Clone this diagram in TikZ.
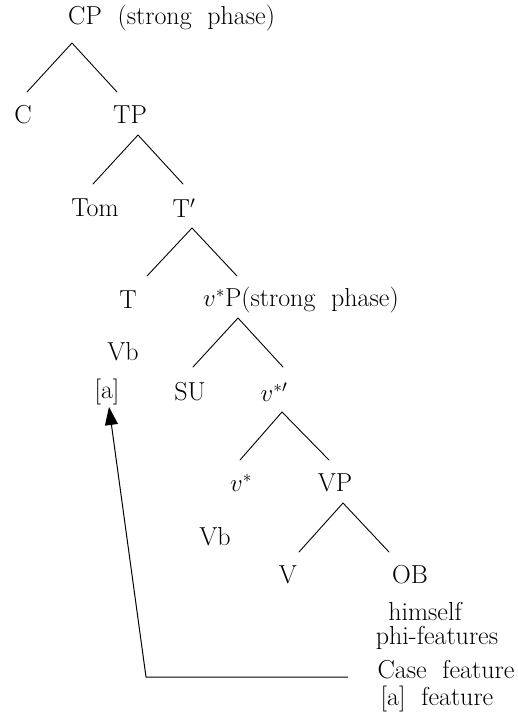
\documentclass[tikz,border=0pt]{standalone}
\usetikzlibrary{arrows.meta}
\tikzset{
  lbl/.style={inner sep=0pt, font=\fontsize{26}{30}\selectfont},
  branch/.style={line width=0.9pt, line cap=round},
  link/.style={line width=1pt}
}
\begin{document}
\begin{tikzpicture}[x=1pt,y=-1pt]
\useasboundingbox (0,0) rectangle (517,727);
% labels
\node[lbl, anchor=west] (CP) at (68,18) {CP\ \ (strong\ \ phase)};
\node[lbl] (C) at (23,115) {C};
\node[lbl] (TP) at (130,115) {TP};
\node[lbl] (Tom) at (95,208) {Tom};
\node[lbl] (Tbar) at (184,208) {T$'$};
\node[lbl] (T) at (128,300) {T};
\node[lbl, anchor=west] (vP) at (203,300) {$v^{*}$P(strong\ \ phase)};
\node[lbl] (Vb1) at (123,352) {Vb};
\node[lbl] (a) at (107,392) {[a]};
\node[lbl] (SU) at (190,392) {SU};
\node[lbl] (vbar) at (274,392) {$v^{*\prime}$};
\node[lbl] (vstar) at (241,483) {$v^{*}$};
\node[lbl] (VP) at (335,483) {VP};
\node[lbl] (Vb2) at (215,537) {Vb};
\node[lbl] (V) at (288,575) {V};
\node[lbl] (OB) at (410,575) {OB};
\node[lbl] (him) at (425,611) {himself};
\node[lbl] (phi) at (437,638) {phi-features};
\node[lbl] (case) at (446,670) {Case\ \ feature};
\node[lbl] (afeat) at (437,699) {[a]\ \ feature};
% branch points
\coordinate (cpA) at (72,43);  \coordinate (cpL) at (27,92);  \coordinate (cpR) at (117,92);
\coordinate (tpA) at (138,135); \coordinate (tpL) at (93,184); \coordinate (tpR) at (183,184);
\coordinate (tbA) at (192,228); \coordinate (tbL) at (147,276); \coordinate (tbR) at (237,276);
\coordinate (vpA) at (238,318); \coordinate (vpL) at (193,367); \coordinate (vpR) at (283,367);
\coordinate (vbA) at (282,412); \coordinate (vbL) at (240,460); \coordinate (vbR) at (329,460);
\coordinate (VPA) at (343,503); \coordinate (VPL) at (299,552); \coordinate (VPR) at (389,552);
\draw[branch] (cpL) -- (cpA) -- (cpR);
\draw[branch] (tpL) -- (tpA) -- (tpR);
\draw[branch] (tbL) -- (tbA) -- (tbR);
\draw[branch] (vpL) -- (vpA) -- (vpR);
\draw[branch] (vbL) -- (vbA) -- (vbR);
\draw[branch] (VPL) -- (VPA) -- (VPR);
% arrow
\coordinate (lineEnd) at (348,677);
\coordinate (corner) at (146,677);
\coordinate (tip) at (109,407);
\draw[link, -{Triangle[length=18pt,width=13pt]}] (lineEnd) -- (corner) -- (tip);
\end{tikzpicture}
\end{document}
